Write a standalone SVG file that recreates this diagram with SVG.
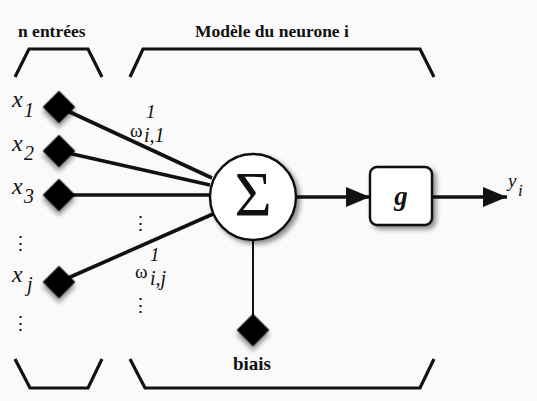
<svg xmlns="http://www.w3.org/2000/svg" width="537" height="401" viewBox="0 0 537 401">
<style>
.b{font-weight:bold}
.it{font-style:italic}
.br{fill:none;stroke:#111;stroke-width:3.2;stroke-linejoin:miter}
.ln{stroke:#111;stroke-width:3.6;fill:none}
.dm{fill:#000}
</style>
<defs>
<filter id="sh" x="-40%" y="-40%" width="200%" height="200%">
<feDropShadow dx="3" dy="3" stdDeviation="2.5" flood-color="#000" flood-opacity="0.45"/>
</filter>
<marker id="ah" viewBox="0 0 24 20" refX="24" refY="10" markerWidth="24" markerHeight="20" markerUnits="userSpaceOnUse" orient="auto">
<path d="M0,0 L24,10 L0,20 Z" fill="#111"/>
</marker>
</defs>
<rect width="537" height="401" fill="#fafafa"/>
<g id="brackets">
<path class="br" d="M15,77 L29,49 L88,49 L102,77"/>
<path class="br" d="M130,77 L143,49 L420,49 L434,77"/>
<path class="br" d="M15,359 L30,388 L88,388 L102,359"/>
<path class="br" d="M130,359 L145,388 L420,388 L434,359"/>
<text class="b" x="18" y="37" font-size="17.5" font-family="Liberation Serif" fill="#111">n entrées</text>
<text class="b" x="272" y="37" font-size="17.5" text-anchor="middle" font-family="Liberation Serif" fill="#111">Modèle du neurone i</text>
</g>
<g id="connectors">
<line class="ln" x1="59" y1="107" x2="212" y2="178"/>
<line class="ln" x1="59" y1="151" x2="210" y2="185"/>
<line class="ln" x1="59" y1="195" x2="210" y2="195"/>
<line class="ln" x1="59" y1="282" x2="213" y2="214"/>
<line x1="253" y1="240" x2="253" y2="330" stroke="#111" stroke-width="2"/>
<line class="ln" x1="297" y1="197" x2="370" y2="197" marker-end="url(#ah)"/>
<line class="ln" x1="432" y1="197" x2="507" y2="197" marker-end="url(#ah)"/>
</g>
<g id="x1">
<rect class="dm" x="47.5" y="95.5" width="23" height="23" transform="rotate(45 59 107)" filter="url(#sh)"/>
<text class="it" x="12" y="107" font-size="24" font-family="Liberation Serif" fill="#111">x</text>
<text class="it" x="24" y="117" font-size="20" font-family="Liberation Serif" fill="#111">1</text>
</g>
<g id="x2">
<rect class="dm" x="47.5" y="139.5" width="23" height="23" transform="rotate(45 59 151)" filter="url(#sh)"/>
<text class="it" x="12" y="151" font-size="24" font-family="Liberation Serif" fill="#111">x</text>
<text class="it" x="24" y="160" font-size="20" font-family="Liberation Serif" fill="#111">2</text>
</g>
<g id="x3">
<rect class="dm" x="47.5" y="183.5" width="23" height="23" transform="rotate(45 59 195)" filter="url(#sh)"/>
<text class="it" x="12" y="194" font-size="24" font-family="Liberation Serif" fill="#111">x</text>
<text class="it" x="24" y="203" font-size="20" font-family="Liberation Serif" fill="#111">3</text>
</g>
<g id="xj">
<rect class="dm" x="47.5" y="270.5" width="23" height="23" transform="rotate(45 59 282)" filter="url(#sh)"/>
<text class="it" x="12" y="282" font-size="24" font-family="Liberation Serif" fill="#111">x</text>
<text class="it" x="27" y="291" font-size="20" font-family="Liberation Serif" fill="#111">j</text>
</g>
<g id="dots">
<text x="20" y="250" font-size="19" text-anchor="middle" font-family="Liberation Serif" fill="#111">⋮</text>
<text x="20" y="330" font-size="19" text-anchor="middle" font-family="Liberation Serif" fill="#111">⋮</text>
<text x="140" y="230" font-size="19" text-anchor="middle" font-family="Liberation Serif" fill="#111">⋮</text>
<text x="140" y="312" font-size="19" text-anchor="middle" font-family="Liberation Serif" fill="#111">⋮</text>
</g>
<g id="w1">
<text class="it" x="146" y="118" font-size="19" font-family="Liberation Serif" fill="#111">1</text>
<text x="130" y="137" font-size="19" font-family="Liberation Serif" fill="#111">ω</text>
<text class="it" x="144" y="142" font-size="20" font-family="Liberation Serif" fill="#111">i,1</text>
</g>
<g id="wj">
<text class="it" x="150" y="261" font-size="19" font-family="Liberation Serif" fill="#111">1</text>
<text x="135" y="278" font-size="19" font-family="Liberation Serif" fill="#111">ω</text>
<text class="it" x="150" y="285" font-size="20" font-family="Liberation Serif" fill="#111">i,j</text>
</g>
<g id="sum">
<circle cx="253" cy="197" r="43" fill="#fff" stroke="#111" stroke-width="2.4" filter="url(#sh)"/>
<text x="253" y="216" font-size="64" text-anchor="middle" font-family="Liberation Serif" fill="#111">Σ</text>
</g>
<g id="g">
<rect x="370" y="167" width="62" height="58" rx="7" fill="#fff" stroke="#111" stroke-width="2.4" filter="url(#sh)"/>
<text class="b it" x="401" y="205" font-size="27" text-anchor="middle" font-family="Liberation Serif" fill="#111">g</text>
</g>
<g id="yi">
<text class="it" x="508" y="187" font-size="19" font-family="Liberation Serif" fill="#111">y</text>
<text class="it" x="518" y="196" font-size="17" font-family="Liberation Serif" fill="#111">i</text>
</g>
<g id="biais">
<rect class="dm" x="241.5" y="318.5" width="23" height="23" transform="rotate(45 253 330)" filter="url(#sh)"/>
<text class="b" x="252" y="370" font-size="19" text-anchor="middle" font-family="Liberation Serif" fill="#111">biais</text>
</g>
</svg>
